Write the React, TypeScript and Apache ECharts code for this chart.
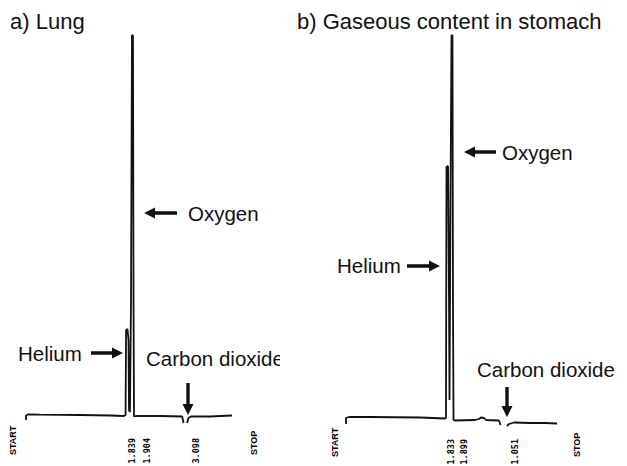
import React, { useEffect, useRef } from "react";
import * as echarts from "echarts";

// Chromatogram traces: [retention time (min), detector signal (arb.)]
const lungTrace: (number | string)[][] = [
  [0, -5], [0, -0.5], [0.036, 0.5], [0.25, 0.3], [0.98, 0], [1.53, -0.5], [1.78, -1],
  [1.81, 0], [1.82, 85], [1.845, 86], [1.864, 75], [1.873, 5], [1.89, 3],
  [1.909, 115], [1.927, 380], [1.945, 379], [1.955, 115], [1.964, -1.5],
  [2.0, -1], [2.44, -1], [2.84, -1.5], [2.864, -8],
  [2.9, "-"],
  [2.927, -8], [2.955, -3], [3.0, -1.5], [3.345, -1.5], [3.745, -0.5],
];

const stomachTrace: (number | string)[][] = [
  [0, -6], [0, 0], [0.055, 1], [0.44, 1], [1.345, 0.5], [1.8, -0.5], [1.818, 0],
  [1.827, 251], [1.855, 252], [1.873, 118], [1.882, 18], [1.9, 218],
  [1.918, 383], [1.936, 382], [1.945, 118], [1.955, -2], [1.98, -2.5],
  [2.345, -2], [2.418, -1], [2.455, 0.5], [2.51, 0], [2.545, -2], [2.78, -2.5], [2.81, -7],
  [2.87, "-"],
  [2.927, -8], [2.964, -6], [3.055, -4.5], [3.345, -5], [3.618, -5], [3.836, -5.5],
];

const lungStop = 4.15;
const stomachStop = 4.2;

const lungPeakLabels = ["1.839", "1.904", "3.098"];
const stomachPeakLabels = ["1.833", "1.899", "1.051"];

const panelTitles = ["a) Lung", "b) Gaseous content in stomach"];
const compounds = ["Oxygen", "Helium", "Carbon dioxide"];

const INK = "#111";

function arrow(tipX: number, tipY: number, len: number, dir: "left" | "right" | "down") {
  const L = 11, H = 5.5, s = 1.7;
  let pts: number[][];
  if (dir === "left") {
    pts = [[tipX, tipY], [tipX + L, tipY - H], [tipX + L, tipY - s], [tipX + len, tipY - s],
      [tipX + len, tipY + s], [tipX + L, tipY + s], [tipX + L, tipY + H]];
  } else if (dir === "right") {
    pts = [[tipX, tipY], [tipX - L, tipY - H], [tipX - L, tipY - s], [tipX - len, tipY - s],
      [tipX - len, tipY + s], [tipX - L, tipY + s], [tipX - L, tipY + H]];
  } else {
    pts = [[tipX, tipY], [tipX - H, tipY - L], [tipX - s, tipY - L], [tipX - s, tipY - len],
      [tipX + s, tipY - len], [tipX + s, tipY - L], [tipX + H, tipY - L]];
  }
  return { type: "polygon", shape: { points: pts }, style: { fill: INK }, silent: true };
}

function label(text: string, x: number, y: number, size: number) {
  return {
    type: "text", x, y, silent: true,
    style: { text, fill: INK, font: `${size}px "Liberation Sans", Arial, sans-serif`, align: "left", verticalAlign: "middle" },
  };
}

function rotLabel(text: string, x: number, y: number, mono: boolean, alignEnd: boolean) {
  return {
    type: "text", x, y, rotation: Math.PI / 2, silent: true,
    style: {
      text, fill: "#000",
      font: mono ? `bold 8.5px "DejaVu Sans Mono", monospace` : `bold 9px "Liberation Sans", Arial, sans-serif`,
      align: alignEnd ? "right" : "left", verticalAlign: "middle",
    },
  };
}

export default function App() {
  const ref = useRef<HTMLDivElement>(null);
  useEffect(() => {
    if (!ref.current) return;
    const chart = echarts.init(ref.current, undefined, { renderer: "svg" });
    const option: any = {
      animation: false,
      backgroundColor: "#fff",
      grid: [
        { left: 26, top: 25, width: 55 * lungStop, height: 400 },
        { left: 346, top: 28, width: 55 * stomachStop, height: 400 },
      ],
      xAxis: [
        { type: "value", gridIndex: 0, min: 0, max: lungStop, show: false },
        { type: "value", gridIndex: 1, min: 0, max: stomachStop, show: false },
      ],
      yAxis: [
        { type: "value", gridIndex: 0, min: -10, max: 390, show: false },
        { type: "value", gridIndex: 1, min: -10, max: 390, show: false },
      ],
      series: [
        {
          type: "line", xAxisIndex: 0, yAxisIndex: 0, data: lungTrace, symbol: "none",
          connectNulls: false, lineStyle: { color: INK, width: 1.8 }, silent: true,
        },
        {
          type: "line", xAxisIndex: 1, yAxisIndex: 1, data: stomachTrace, symbol: "none",
          connectNulls: false, lineStyle: { color: INK, width: 1.8 }, silent: true,
        },
      ],
      graphic: [
        label(panelTitles[0], 10, 21.5, 22),
        label(panelTitles[1], 297, 21.5, 22),
        // Lung annotations
        arrow(144, 213, 33, "left"),
        label(compounds[0], 188, 213, 20.5),
        label(compounds[1], 18, 353, 20.5),
        arrow(123, 353, 32, "right"),
        label(compounds[2], 146, 358, 20.5),
        { type: "rect", shape: { x: 280, y: 340, width: 16, height: 35 }, style: { fill: "#fff" }, silent: true },
        arrow(188, 415, 32, "down"),
        // Stomach annotations
        arrow(464, 152, 32, "left"),
        label(compounds[0], 502, 152.5, 20.5),
        label(compounds[1], 337, 265.5, 20.5),
        arrow(440, 266, 33, "right"),
        label(compounds[2], 477, 369, 20.5),
        arrow(507, 417, 30, "down"),
        // Printer labels
        rotLabel("START", 13, 455, false, false),
        rotLabel(lungPeakLabels[0], 132, 438, true, true),
        rotLabel(lungPeakLabels[1], 147, 438, true, true),
        rotLabel(lungPeakLabels[2], 196, 438, true, true),
        rotLabel("STOP", 254, 455, false, false),
        rotLabel("START", 335, 457, false, false),
        rotLabel(stomachPeakLabels[0], 451, 439, true, true),
        rotLabel(stomachPeakLabels[1], 464, 439, true, true),
        rotLabel(stomachPeakLabels[2], 515, 439, true, true),
        rotLabel("STOP", 577, 457, false, false),
      ],
    };
    chart.setOption(option);
    return () => chart.dispose();
  }, []);
  return (
    <div
      ref={ref}
      style={{ position: "fixed", left: 0, top: 0, width: 627, height: 466, background: "#fff" }}
    />
  );
}
